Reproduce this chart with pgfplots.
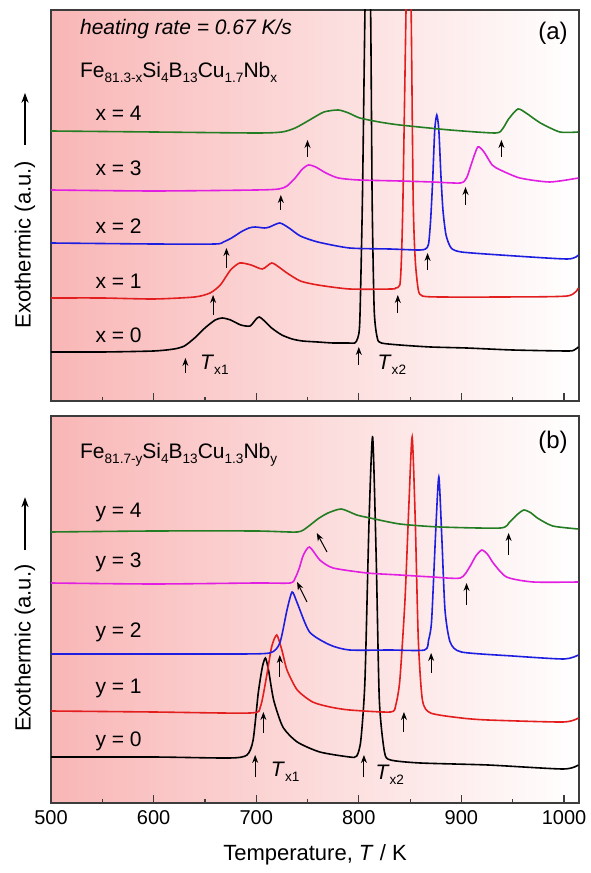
\documentclass[border=0pt]{standalone}
\usepackage{fontspec}
\setmainfont{Liberation Sans}
\usepackage{pgfplots}
\pgfplotsset{compat=1.18}
\usetikzlibrary{arrows.meta}

\definecolor{cRed}{RGB}{226,30,30}
\definecolor{cBlue}{RGB}{30,30,225}
\definecolor{cMag}{RGB}{225,30,225}
\definecolor{cGreen}{RGB}{35,125,35}
\definecolor{bgPink}{RGB}{249,182,182}
\definecolor{frameGray}{RGB}{60,60,60}

% small, low subscript as in the original figure
\newcommand{\sub}[1]{\raisebox{-0.45ex}{\fontsize{6.8}{7}\selectfont #1}}

\tikzset{
  lab/.style={anchor=west, font=\fontsize{10.5}{12}\selectfont, inner sep=0pt},
  tx/.style={-{Stealth[length=4pt,width=3pt]}, line width=0.5pt, black},
  yarr/.style={-{Stealth[length=5pt,width=3.6pt]}, line width=0.6pt, black},
}

\pgfplotsset{
  dsc/.style={
    width=264pt, scale only axis,
    xmin=500, xmax=1014.6,
    xtick={500,600,...,1000}, minor x tick num=1,
    ytick=\empty,
    xtick pos=bottom, tick align=inside,
    major tick length=4pt, minor tick length=2pt,
    axis line style={frameGray, line width=0.7pt},
    every tick/.style={frameGray, line width=0.6pt},
    axis background/.style={left color=bgPink, right color=white},
    /pgf/number format/assume math mode=true,
    /pgf/number format/1000 sep={},
    ticklabel style={font=\fontsize{10}{12}\selectfont},
    ylabel style={at={(axis description cs:0,0.40)}, anchor=center, yshift=13pt, font=\fontsize{11}{13}\selectfont},
    xlabel style={at={(axis description cs:0.5,0)}, anchor=center, yshift=-26pt, font=\fontsize{11}{13}\selectfont},
    every axis plot/.append style={line width=0.8pt, smooth, tension=0.4},
    ylabel={Exothermic (a.u.)},
  },
}

\begin{document}
\begin{tikzpicture}

% ---- panel (b) ----
\begin{axis}[dsc, name=pb, at={(0,0)}, height=193.5pt,
  ymin=0, ymax=387,
  xlabel={Temperature, \textit{T} / K}]

\addplot[black] coordinates {
 (500,46) (600,46) (674,45) (691,48) (697,63) (702,110) (706,136) (709,145)
 (712,133) (717,103) (726,76) (740,61) (762,51) (791,46) (798,47) (802,63)
 (806,123) (810,283) (813.5,366) (817,243) (820,103) (825,51) (831,43)
 (860,40) (926,38) (999,34) (1014,38)};
\addplot[cRed] coordinates {
 (500,92) (600,91) (694,90) (704,96) (710,126) (715,156) (720,168) (725,153)
 (730,133) (740,113) (755,101) (772,96) (791,93) (831,91) (836,98) (840,123)
 (845,203) (849,303) (852,366) (855,283) (858,163) (862,103) (870,90)
 (900,85) (926,83) (999,81) (1014,85)};
\addplot[cBlue] coordinates {
 (500,149) (600,149) (674,149) (713,150) (723,160) (730,193) (735,211)
 (740,200) (752,171) (772,158) (791,153) (830,153) (864,153) (868,163)
 (871,183) (875,273) (878,326) (881,263) (884,193) (889,161) (900,151)
 (950,147) (1000,144) (1014,148)};
\addplot[cMag] coordinates {
 (500,220) (600,219) (700,220) (733,220) (738,225) (742,235) (746,248)
 (752,256) (762,243) (775,235) (808,230) (840,228) (872,226) (899,225)
 (908,236) (914,247) (920,253) (926,248) (931,240) (944,226) (970,221)
 (1014,221)};
\addplot[cGreen] coordinates {
 (500,271) (600,272) (700,272) (740,271) (750,276) (760,284) (770,290)
 (783,294) (798,288) (811,285) (840,279) (879,276) (938,275) (947,281)
 (955,289) (961,293) (968,290) (974,285) (989,277) (1014,274)};

\draw[tx] (axis cs:699,26) -- (axis cs:699,48);
\draw[tx] (axis cs:805,26) -- (axis cs:805,48);
\draw[tx] (axis cs:707,70) -- (axis cs:707,91);
\draw[tx] (axis cs:844,71) -- (axis cs:844,91);
\draw[tx] (axis cs:723,126) -- (axis cs:723,148);
\draw[tx] (axis cs:870.5,130) -- (axis cs:870.5,150);
\draw[tx] (axis cs:749.5,201) -- (axis cs:739.8,221);
\draw[tx] (axis cs:905,198) -- (axis cs:905,220);
\draw[tx] (axis cs:769,251) -- (axis cs:759,270);
\draw[tx] (axis cs:946,248) -- (axis cs:946,270);

\node[lab] at (axis cs:714,31) {\textit{T}\sub{x1}};
\node[lab] at (axis cs:816,28) {\textit{T}\sub{x2}};
\node[lab] at (axis cs:543,291) {y = 4};
\node[lab] at (axis cs:543,241) {y = 3};
\node[lab] at (axis cs:543,171) {y = 2};
\node[lab] at (axis cs:543,115) {y = 1};
\node[lab] at (axis cs:543,62) {y = 0};
\node[lab] at (axis cs:528,348) {Fe\sub{81.7-y}Si\sub{4}B\sub{13}Cu\sub{1.3}Nb\sub{y}};
\node[lab, anchor=east, font=\fontsize{12}{14}\selectfont] at (axis cs:1004,361) {(b)};
\coordinate (bl) at (rel axis cs:0,0);
\coordinate (b1) at (rel axis cs:0,0.654);
\coordinate (b2) at (rel axis cs:0,0.790);
\end{axis}

% ---- panel (a) ----
\begin{axis}[dsc, name=pa, at={(0,201pt)}, height=195.5pt,
  ymin=0, ymax=391, xticklabels={}]

\addplot[black] coordinates {
 (500,49) (550,49) (600,50) (620,52) (630,55) (640,63) (650,73) (660,81)
 (667,83) (675,81) (685,76) (694,75) (700,82) (703,84) (707,81) (715,73)
 (725,66) (735,62) (745,60) (760,59) (775,58) (790,58) (796,58) (799,63)
 (801,81) (803.5,201) (806,391) (808.5,551) (811.5,391) (813,201) (815,91)
 (818,63) (822,58) (840,56) (870,54) (905,53) (950,51) (1003,50) (1010,51)
 (1014,54)};
\addplot[cRed] coordinates {
 (500,103) (550,103) (600,102) (640,104) (655,108) (665,116) (675,131)
 (684,138) (695,136) (706,132) (715,138) (722,134) (730,128) (743,120)
 (760,116) (791,112) (832,112) (836,113) (840,116) (841.5,141) (843,201)
 (846,391) (848.5,551) (851,391) (853,201) (855,141) (858,111) (862,105)
 (879,104) (938,104) (1003,105) (1014,113)};
\addplot[cBlue] coordinates {
 (500,158) (600,157) (660,157) (668,159) (676,163) (685,169) (693,173)
 (699,174) (708,173) (713,174) (723,178) (732,173) (743,165) (760,159)
 (791,153) (830,152) (858,151) (865,152) (868,157) (870,181) (872,221)
 (874,271) (876,286) (878,271) (880,226) (882,191) (885,166) (890,153)
 (900,149) (938,146) (1003,142) (1014,146)};
\addplot[cMag] coordinates {
 (500,211) (600,210) (700,211) (722,212) (730,215) (738,223) (745,232)
 (751,236) (758,234) (768,228) (780,223) (800,221) (840,220) (872,219)
 (899,218) (905,223) (910,238) (916,254) (922,249) (930,236) (938,231)
 (957,223) (986,219) (1014,223)};
\addplot[cGreen] coordinates {
 (500,270) (600,269) (700,268) (725,269) (738,273) (752,281) (766,289)
 (780,291) (790,288) (801,283) (820,279) (840,276) (889,271) (933,268)
 (940,272) (946,282) (955,292) (963,288) (977,278) (996,269) (1014,269)};

\draw[tx] (axis cs:631,28) -- (axis cs:631,43);
\draw[tx] (axis cs:800,36) -- (axis cs:800,54);
\draw[tx] (axis cs:658,86) -- (axis cs:658,106);
\draw[tx] (axis cs:838,88) -- (axis cs:838,106);
\draw[tx] (axis cs:671,133) -- (axis cs:671,153);
\draw[tx] (axis cs:867,131) -- (axis cs:867,148);
\draw[tx] (axis cs:724,191) -- (axis cs:724,206);
\draw[tx] (axis cs:904,196) -- (axis cs:904,214);
\draw[tx] (axis cs:750,244) -- (axis cs:750,261);
\draw[tx] (axis cs:939,244) -- (axis cs:939,261);

\node[lab] at (axis cs:645,36) {\textit{T}\sub{x1}};
\node[lab] at (axis cs:818,36) {\textit{T}\sub{x2}};
\node[lab] at (axis cs:543,288) {x = 4};
\node[lab] at (axis cs:543,233) {x = 3};
\node[lab] at (axis cs:543,175) {x = 2};
\node[lab] at (axis cs:543,120) {x = 1};
\node[lab] at (axis cs:543,66) {x = 0};
\node[lab] at (axis cs:528,372) {\textit{heating rate = 0.67 K/s}};
\node[lab] at (axis cs:528,329) {Fe\sub{81.3-x}Si\sub{4}B\sub{13}Cu\sub{1.7}Nb\sub{x}};
\node[lab, anchor=east, font=\fontsize{12}{14}\selectfont] at (axis cs:1004,368) {(a)};
\coordinate (tr) at (rel axis cs:1,1);
\coordinate (a1) at (rel axis cs:0,0.655);
\coordinate (a2) at (rel axis cs:0,0.788);
\end{axis}

% arrows of the y labels
\draw[yarr] ([xshift=-13pt]a1) -- ([xshift=-13pt]a2);
\draw[yarr] ([xshift=-13pt]b1) -- ([xshift=-13pt]b2);

\pgfresetboundingbox
\path ([shift={(-25.5pt,-35pt)}]bl) rectangle ([shift={(5.5pt,5pt)}]tr);
\end{tikzpicture}
\end{document}
